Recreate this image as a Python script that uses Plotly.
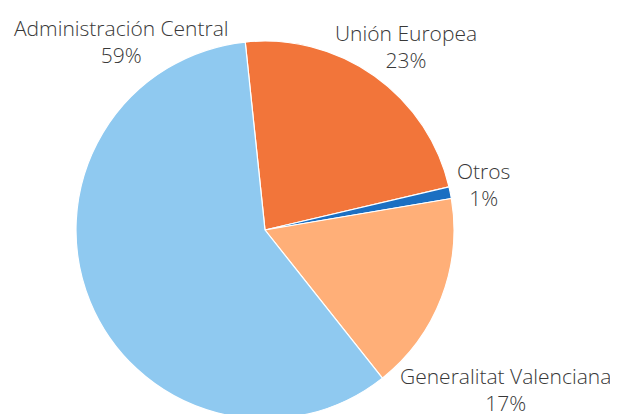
import plotly.graph_objects as go

labels = ["Unión Europea", "Otros", "Generalitat Valenciana", "Administración Central"]
values = [23, 1, 17, 59]
colors = ["#F2753A", "#1B6FC2", "#FFAF78", "#8FC9F0"]

W, H = 618, 414
OFF = 8  # page body margin offset
cx, cy, r = 265 - OFF, 230 - OFF, 189

fig = go.Figure(go.Pie(
    labels=labels,
    values=values,
    sort=False,
    direction="clockwise",
    rotation=-6,
    marker=dict(colors=colors, line=dict(color="white", width=1.2)),
    textinfo="none",
    hoverinfo="label+percent",
    showlegend=False,
    domain=dict(x=[(cx - r) / W, (cx + r) / W],
                y=[1 - (cy + r) / H, 1 - (cy - r) / H]),
))

# label centre positions (reference pixels)
label_pos = {
    "Administración Central": (121, 41),
    "Unión Europea": (406, 47),
    "Otros": (483, 184),
    "Generalitat Valenciana": (505, 389),
}
total = sum(values)
for lab, val in zip(labels, values):
    px, py = label_pos[lab]
    fig.add_annotation(
        x=(px - OFF) / W, y=1 - (py - OFF) / H, xref="paper", yref="paper",
        text=f"{lab}<br>{round(100 * val / total)}%",
        showarrow=False, xanchor="center", yanchor="middle",
        font=dict(family="Open Sans", size=21, color="#383838", weight=300),
    )

fig.update_layout(
    width=W, height=H,
    margin=dict(l=0, r=0, t=0, b=0),
    paper_bgcolor="white", plot_bgcolor="white",
)
fig.write_html("out.html")
